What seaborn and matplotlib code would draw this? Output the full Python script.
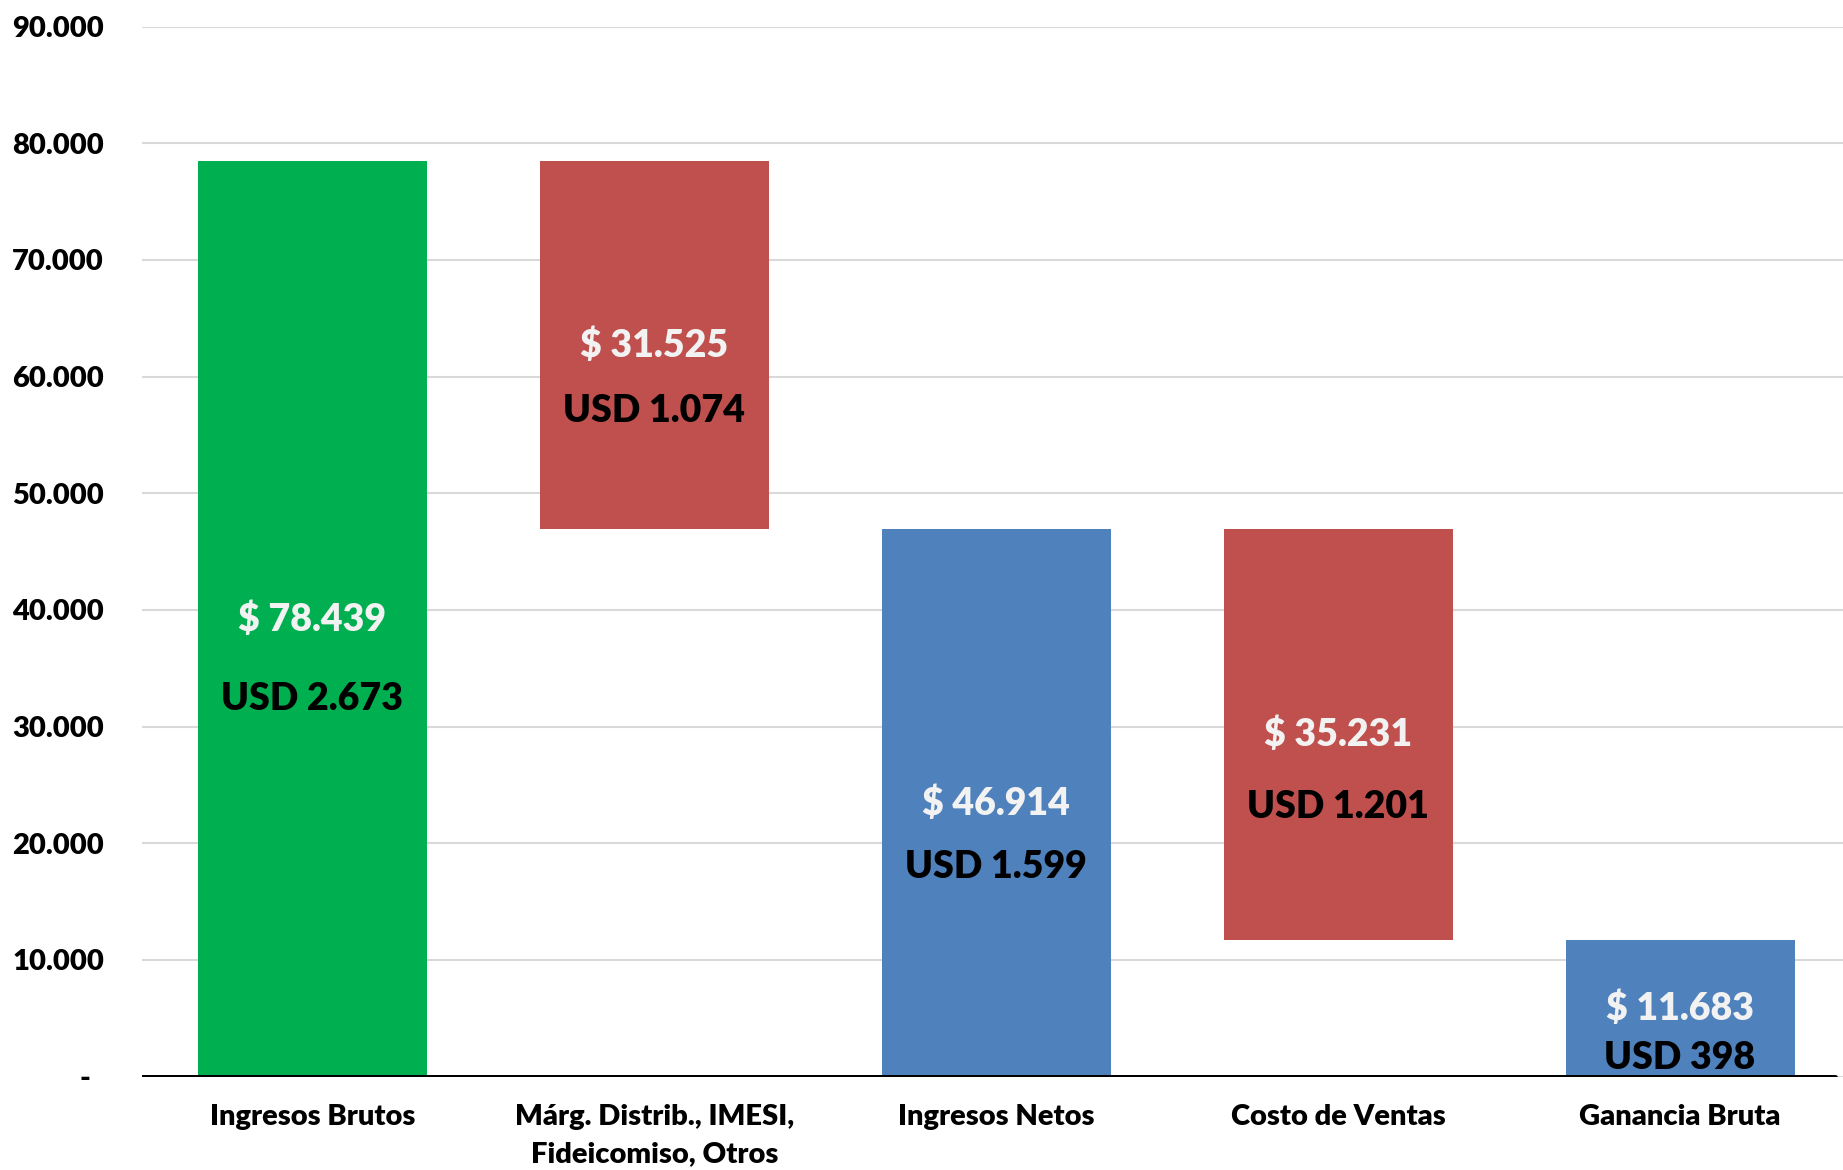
import numpy as np
import pandas as pd
import matplotlib
matplotlib.use("Agg")
import matplotlib.pyplot as plt
from matplotlib.ticker import FixedLocator
import seaborn as sns

categories = ["Ingresos Brutos", "Márg. Distrib., IMESI,\nFideicomiso, Otros",
              "Ingresos Netos", "Costo de Ventas", "Ganancia Bruta"]
bar_bottom = [0, 46914, 0, 11683, 0]
bar_top = [78439, 78439, 46914, 46914, 11683]
peso_labels = ["$ 78.439", "$ 31.525", "$ 46.914", "$ 35.231", "$ 11.683"]
usd_labels = ["USD 2.673", "USD 1.074", "USD 1.599", "USD 1.201", "USD 398"]
bar_colors = ["#00B050", "#C0504D", "#4F81BD", "#C0504D", "#4F81BD"]
y_ticks = [0, 10000, 20000, 30000, 40000, 50000, 60000, 70000, 80000, 90000]
y_ticklabels = ["-  ", "10.000", "20.000", "30.000", "40.000", "50.000",
                "60.000", "70.000", "80.000", "90.000"]
usd_offsets_pt = [58, 47, 46, 52, 36]

sns.set_theme(style="white")
plt.rcParams['font.family'] = ['Lato', 'DejaVu Sans']

df = pd.DataFrame({"cat": categories,
                   "height": np.array(bar_top) - np.array(bar_bottom),
                   "bottom": bar_bottom})

fig = plt.figure(figsize=(18.43, 11.70), dpi=100)
ax = fig.add_axes([141.5 / 1843, 93.5 / 1170, (1851 - 141.5) / 1843, (1076.5 - 26.5) / 1170])

sns.barplot(data=df, x="cat", y="height", bottom=df["bottom"].values, ax=ax,
            color=bar_colors[0], width=0.67, saturation=1, linewidth=0, zorder=3,
            errorbar=None)
for patch, c in zip(ax.patches, bar_colors):
    patch.set_facecolor(c)
    patch.set_edgecolor("none")

ax.set_xlim(-0.5, 4.5)
ax.set_ylim(0, 90000)
ax.yaxis.set_major_locator(FixedLocator(y_ticks))
ax.set_yticklabels(y_ticklabels)
ax.grid(axis="y", color="#D9D9D9", linewidth=1.5, zorder=0)
ax.grid(axis="x", visible=False)
for s in ax.spines.values():
    s.set_visible(False)
ax.axhline(0, xmin=0, xmax=(1835 - 141.5) / (1851 - 141.5), color="black", lw=3.6, zorder=4)

ax.tick_params(axis="y", length=0, pad=27, labelsize=21)
ax.tick_params(axis="x", length=0, pad=19.5, labelsize=21)
for lab in ax.get_yticklabels() + ax.get_xticklabels():
    lab.set_fontweight("heavy")
    lab.set_color("black")
for lab in ax.get_xticklabels():
    lab.set_linespacing(1.55)
ax.set_xlabel("")
ax.set_ylabel("")

for i, (b, t) in enumerate(zip(bar_bottom, bar_top)):
    mid = (b + t) / 2
    ax.text(i, mid, peso_labels[i], ha="center", va="center", fontsize=27,
            fontweight="heavy", color="#F2F2F2", zorder=5)
    ax.annotate(usd_labels[i], xy=(i, mid), xytext=(0, -usd_offsets_pt[i]),
                textcoords="offset points", ha="center", va="center",
                fontsize=27, fontweight="heavy", color="black", zorder=5)

fig.savefig("out.png", dpi=100)
